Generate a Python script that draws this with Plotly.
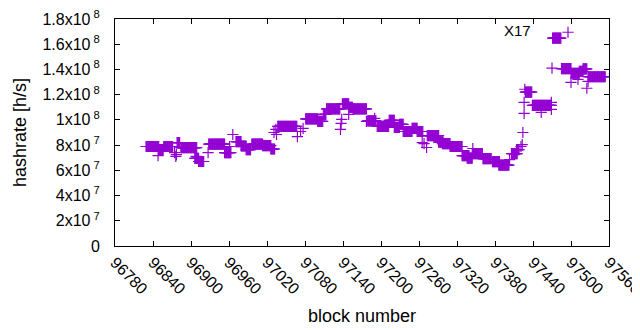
import plotly.graph_objects as go

# Runs of constant estimated hashrate: first block, last block, value (x10^6 h/s)
run_start = [96829, 96849, 96857, 96878, 96884, 96906, 96912, 96928, 96953, 96971,
             96979, 96987, 96996, 97013, 97026, 97037, 97081, 97100, 97109, 97114,
             97139, 97150, 97156, 97179, 97194, 97213, 97221, 97229, 97235, 97249,
             97257, 97273, 97291, 97297, 97309, 97328, 97336, 97344, 97361, 97376,
             97386, 97406, 97414, 97428, 97439, 97471, 97485, 97500, 97513, 97519,
             97527]
run_end = [96849, 96856, 96871, 96882, 96909, 96912, 96920, 96953, 96963, 96979,
           96987, 96994, 97013, 97026, 97032, 97067, 97100, 97108, 97113, 97135,
           97149, 97155, 97177, 97192, 97212, 97221, 97229, 97235, 97249, 97257,
           97266, 97291, 97298, 97309, 97328, 97339, 97344, 97360, 97374, 97387,
           97402, 97415, 97418, 97438, 97469, 97484, 97500, 97513, 97519, 97525,
           97554]
run_value = [78.9, 76.5, 78.9, 82.0, 78.0, 69.5, 67.0, 80.8, 74.1, 82.8,
             79.3, 76.5, 80.8, 79.6, 76.9, 94.8, 100.8, 98.8, 104.3, 108.7,
             112.7, 110.0, 108.7, 99.2, 94.8, 99.6, 94.0, 96.4, 90.8, 93.2,
             90.8, 87.6, 82.4, 81.2, 78.9, 71.7, 69.7, 73.3, 69.3, 66.9,
             64.1, 73.3, 76.5, 122.0, 111.5, 164.9, 140.6, 137.0, 138.5, 140.5,
             134.2]

# Individual blocks off the runs
single_block = [96848, 96874, 96876, 96877, 96908, 96927, 96961, 96966, 97031, 97034,
                97035, 97068, 97073, 97077, 97136, 97137, 97138, 97149, 97177, 97190,
                97265, 97268, 97272, 97345, 97403, 97421, 97423, 97424, 97426, 97426,
                97427, 97453, 97469, 97469, 97470, 97500, 97511, 97527, 97525]
single_value = [71.7, 74.1, 71.0, 72.5, 71.0, 74.1, 78.9, 88.4, 90.0, 92.4,
                88.4, 86.8, 90.8, 93.2, 92.4, 97.2, 100.4, 104.3, 98.8, 101.2,
                82.0, 81.2, 78.1, 77.3, 68.5, 78.9, 80.4, 90.0, 105.1, 113.9,
                124.3, 105.9, 113.9, 108.3, 141.0, 129.8, 132.2, 130.6, 125.1]

x_ticks = list(range(96780, 97561, 60))
y_tick_vals = [0, 2e7, 4e7, 6e7, 8e7, 1e8, 1.2e8, 1.4e8, 1.6e8, 1.8e8]
y_tick_text = ["0", "2x10<sup> 7</sup>", "4x10<sup> 7</sup>", "6x10<sup> 7</sup>",
               "8x10<sup> 7</sup>", "1x10<sup> 8</sup>", "1.2x10<sup> 8</sup>",
               "1.4x10<sup> 8</sup>", "1.6x10<sup> 8</sup>", "1.8x10<sup> 8</sup>"]

xs, ys = [], []
for s, e, v in zip(run_start, run_end, run_value):
    for b in range(s, e + 1):
        xs.append(b)
        ys.append(v * 1e6)
for b, v in zip(single_block, single_value):
    xs.append(b)
    ys.append(v * 1e6)

color = "#9400D3"
font = "Liberation Sans, Arial, sans-serif"

# page has an 8px body margin; figure sized so it fills the 640x330 window
W, H = 632, 322
L, T, PW, PH = 107, 11, 494, 227

fig = go.Figure()
fig.add_trace(go.Scatter(
    x=xs, y=ys, mode="markers", name="",
    marker=dict(symbol="cross-thin", size=8, line=dict(color=color, width=1.2), color=color),
    showlegend=True,
))

fig.add_annotation(text="X17", xref="paper", yref="paper",
                   x=(525 - L) / PW, y=(T + PH - 23) / PH,
                   xanchor="right", yanchor="middle", showarrow=False,
                   font=dict(family=font, size=15, color="black"))

fig.update_layout(
    width=W, height=H,
    margin=dict(l=L, r=W - L - PW, t=T, b=H - T - PH, autoexpand=False),
    paper_bgcolor="white", plot_bgcolor="white",
    font=dict(family=font, size=15, color="black"),
    legend=dict(x=(540 - L) / PW, y=(T + PH - 8) / PH, xanchor="left", yanchor="top",
                bgcolor="rgba(0,0,0,0)", borderwidth=0, font=dict(size=15)),
)
fig.update_xaxes(
    range=[96780, 97560], tickvals=x_ticks, ticktext=[str(t) for t in x_ticks],
    tickangle=45, ticks="inside", ticklen=5, tickcolor="black",
    ticklabeloverflow="allow", tickfont=dict(size=16),
    showline=True, linecolor="black", linewidth=1, mirror="allticks",
    showgrid=False, zeroline=False, automargin=False,
    title=dict(text="block number", standoff=12),
)
fig.update_yaxes(
    range=[0, 1.8e8], tickvals=y_tick_vals, ticktext=y_tick_text,
    ticks="inside", ticklen=5, tickcolor="black", ticklabelstandoff=11,
    ticklabeloverflow="allow", tickfont=dict(size=16),
    showline=True, linecolor="black", linewidth=1, mirror="allticks",
    showgrid=False, zeroline=False, automargin=False,
    title=dict(text="hashrate [h/s]", standoff=11),
)

fig.write_html("out.html")
